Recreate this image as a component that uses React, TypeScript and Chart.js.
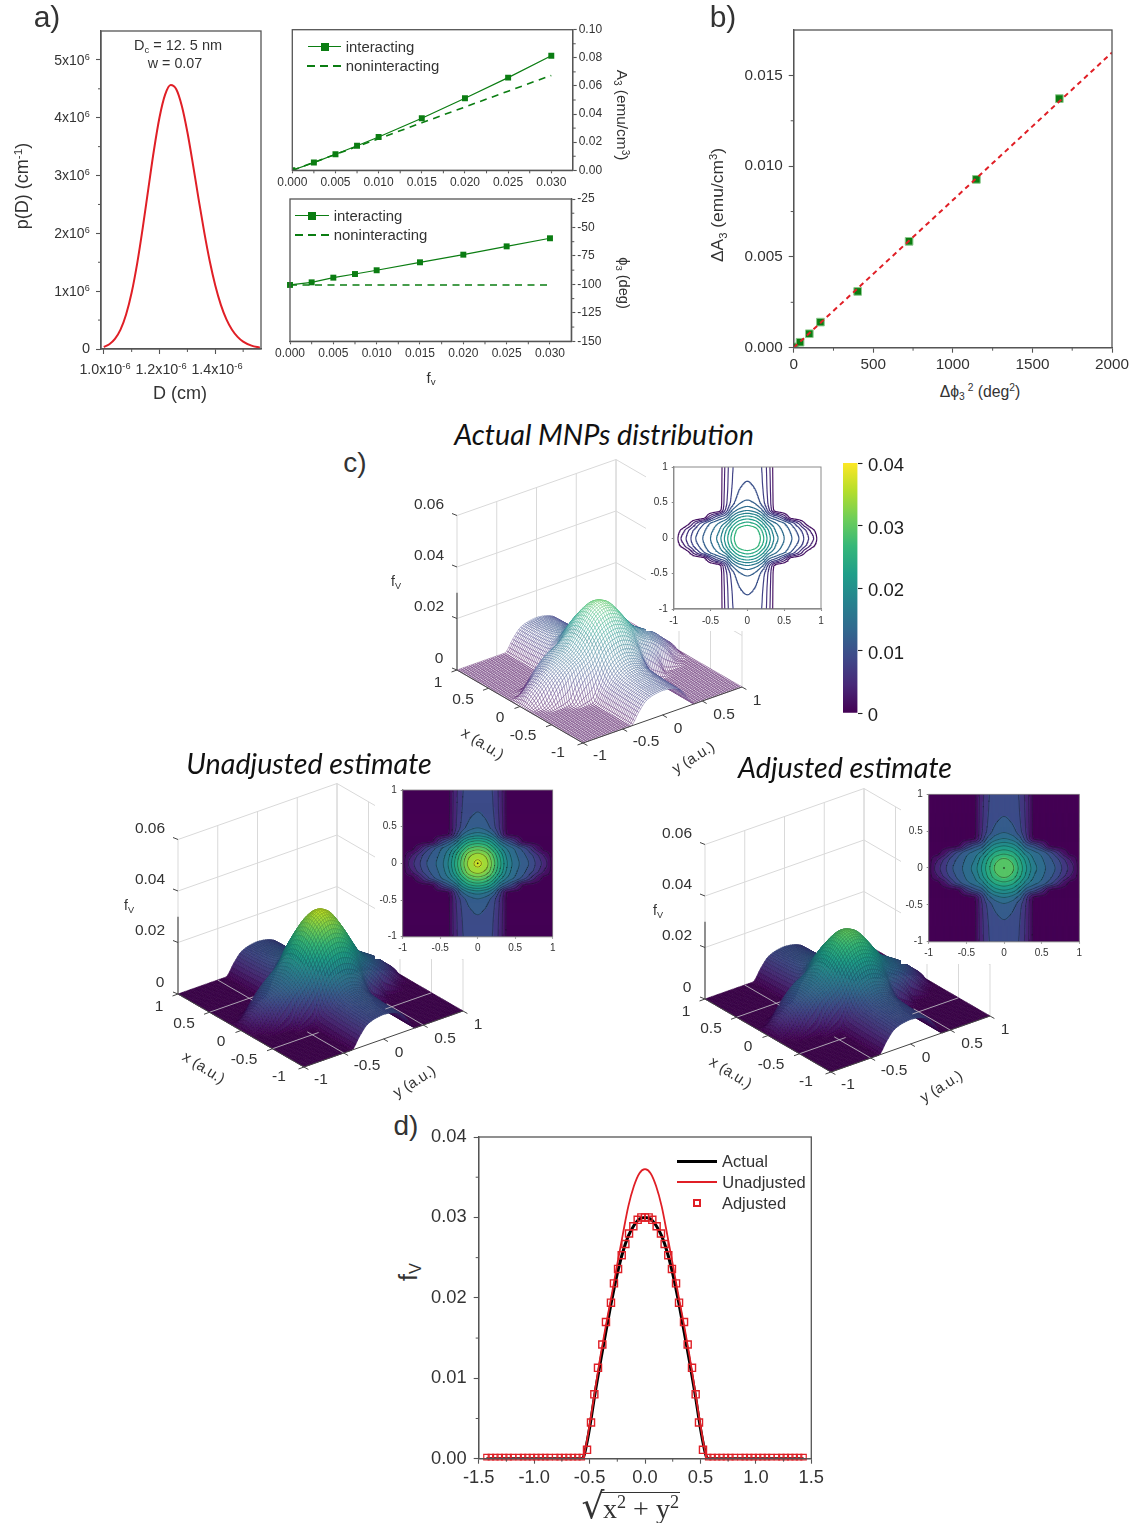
import React, { useEffect, useRef } from "react";
import { Chart, registerables } from "chart.js";
Chart.register(...registerables);

const SANS = "'Liberation Sans', Arial, sans-serif";
const INK = "#333333";
const AXIS = "#555555";
const GREEN = "#0b7d12";
const RED = "#e01f26";

// ---- panel a, size distribution
const diameterE6 = [1.0,1.02,1.04,1.06,1.08,1.1,1.12,1.14,1.16,1.18,1.2,1.22,1.24,1.26,1.28,1.3,1.32,1.34,1.36,1.38,1.4,1.42,1.44,1.46,1.48,1.5,1.53,1.56];
const densityE6 = [0.035,0.082,0.174,0.335,0.597,0.977,1.486,2.103,2.779,3.442,4.008,4.399,4.566,4.494,4.204,3.749,3.19,2.598,2.029,1.522,1.098,0.763,0.512,0.333,0.21,0.128,0.058,0.024];
const densityTicks = [0,1,2,3,4,5];
const densityTickLabels = ["0","","","","",""];
const densityMantissa = ["1","2","3","4","5"];
const densityMinor = [0.5,1.5,2.5,3.5,4.5];
const diameterTicks = [1.0,1.2,1.4];
const diameterTickLabels = ["","",""];
const diameterMantissa = ["1.0","1.2","1.4"];
const diameterMinor = [1.1,1.3,1.5];

// ---- panel a, A3 and phi3 against fv
const fvPoints = [0,0.0025,0.005,0.0075,0.01,0.015,0.02,0.025,0.03];
const a3Interacting = [0,0.0055,0.0114,0.0175,0.0237,0.037,0.0512,0.0659,0.0815];
const a3Noninteracting = [0,0.0056,0.0113,0.0169,0.0225,0.0338,0.045,0.0563,0.0675];
const phiInteracting = [-100.5,-98.2,-94.1,-90.9,-87.6,-80.6,-73.9,-66.6,-59.5];
const phiNoninteracting = [-100.5,-100.5,-100.5,-100.5,-100.5,-100.5,-100.5,-100.5,-100.5];
const fvTicks = [0,0.005,0.01,0.015,0.02,0.025,0.03];
const fvTickLabels = ["0.000","0.005","0.010","0.015","0.020","0.025","0.030"];
const fvMinor = [0.0025,0.0075,0.0125,0.0175,0.0225,0.0275];
const a3Ticks = [0,0.02,0.04,0.06,0.08,0.1];
const a3TickLabels = ["0.00","0.02","0.04","0.06","0.08","0.10"];
const a3Minor = [0.01,0.03,0.05,0.07,0.09];
const phiTicks = [-150,-125,-100,-75,-50,-25];
const phiTickLabels = ["-150","-125","-100","-75","-50","-25"];
const phiMinor = [-137.5,-112.5,-87.5,-62.5,-37.5];

// ---- panel b
const dPhiSquared = [8,40,98,168,402,725,1148,1669];
const dA3 = [0.00005,0.0003,0.00077,0.00141,0.0031,0.00586,0.00927,0.01372];
const fitX = [0,2000];
const fitY = [0,0.01626];
const bXTicks = [0,500,1000,1500,2000];
const bXLabels = ["0","500","1000","1500","2000"];
const bXMinor = [250,750,1250,1750];
const bYTicks = [0,0.005,0.01,0.015];
const bYLabels = ["0.000","0.005","0.010","0.015"];
const bYMinor = [0.0025,0.0075,0.0125];

// ---- panel c, heights in units of 0.001, quadrant x = 0..1 (rows), y = 0..1 (columns), step 0.1
const outerRidgeRows = [
  [12.6,11.8,9.2,5.0,0,0,0,0,0,0,0],
  [11.2,10.6,8.6,4.8,0,0,0,0,0,0,0],
  [10.5,10.0,8.3,4.6,0,0,0,0,0,0,0],
  [10.0,9.6,8.1,4.5,0,0,0,0,0,0,0],
  [9.7,9.3,8.0,4.4,0,0,0,0,0,0,0],
  [9.5,9.1,7.9,4.3,0,0,0,0,0,0,0],
];
const actualCentreRows = [
  [30.0,28.8,25.0,20.5,16.5,14.0,12.1,10.0,6.9,4.0,0],
  [28.8,27.6,24.0,19.6,15.5,13.5,11.5,9.1,6.0,2.5,0],
  [25.0,24.0,21.0,16.6,14.0,12.3,9.6,6.0,1.7,0,0],
  [20.5,19.6,16.6,11.5,9.0,5.3,0.5,0,0,0,0],
  [15.5,14.6,12.0,6.0,0.3,0,0,0,0,0,0],
];
const unadjustedCentreRows = [
  [36.0,34.4,29.6,23.6,17.8,14.2,12.1,10.0,6.9,4.0,0],
  [34.4,32.9,28.4,22.6,17.0,13.7,11.5,9.1,6.0,2.5,0],
  [29.6,28.4,24.6,19.2,15.0,12.5,9.6,6.0,1.7,0,0],
  [23.6,22.6,19.2,13.4,9.4,5.4,0.5,0,0,0,0],
  [16.5,15.6,12.8,6.4,0.3,0,0,0,0,0,0],
];
const actualTable = [...actualCentreRows, ...outerRidgeRows];
const unadjustedTable = [...unadjustedCentreRows, ...outerRidgeRows];
const lineLevels = [2,4,6,8,10,12,14,16,18,20,22,24,26];
const bandLevels = [0.5,3,5.5,8,10.5,13,15.5,18,20.5,23,25.5,28,30.5,33,35.5];
const viridisStops = ["#440154","#482878","#3e4989","#31688e","#26828e","#1f9e89","#35b779","#6ece58","#b5de2b","#fde725"];
const zTickValues = [0,0.02,0.04,0.06];
const wallOffsets = [-1,-0.5,0,0.5,1];
const insetTicks = [-1,-0.5,0,0.5,1];
const insetTickLabels = ["-1","-0.5","0","0.5","1"];
const colorbarTicks = [0,0.01,0.02,0.03,0.04];
const colorbarLabels = ["0","0.01","0.02","0.03","0.04"];

// ---- panel d
const halfR = [0,0.033,0.066,0.105,0.144,0.177,0.21,0.243,0.28,0.307,0.352,0.385,0.424,0.457,0.487,0.523];
const adjustedHalf = [0.03,0.03,0.0297,0.0289,0.028,0.0267,0.0253,0.0236,0.0218,0.0194,0.017,0.0142,0.0113,0.008,0.0045,0.0011];
const floorMarkers = [0.57,0.61,0.65,0.69,0.73,0.77,0.81,0.86,0.9,0.94,0.98,1.02,1.06,1.1,1.14,1.19,1.23,1.27,1.31,1.35,1.39,1.43];
const curveR = [0,0.05,0.1,0.15,0.2,0.25,0.3,0.35,0.4,0.45,0.5,0.55,0.57,1.43];
const actualCurve = [0.03,0.0298,0.029,0.0277,0.0257,0.023,0.0197,0.016,0.0122,0.0082,0.0038,0.0004,0,0];
const unadjustedCurve = [0.036,0.0355,0.0339,0.0314,0.0279,0.0242,0.0204,0.0168,0.0129,0.0086,0.0042,0.0005,0,0];
const dXTicks = [-1.5,-1,-0.5,0,0.5,1,1.5];
const dXLabels = ["-1.5","-1.0","-0.5","0.0","0.5","1.0","1.5"];
const dXMinor = [-1.25,-0.75,-0.25,0.25,0.75,1.25];
const dYTicks = [0,0.01,0.02,0.03,0.04];
const dYLabels = ["0.00","0.01","0.02","0.03","0.04"];
const dYMinor = [0.005,0.015,0.025,0.035];

// ---- helpers
type Rect = { x: number; y: number; w: number; h: number };
const zip = (xs: number[], ys: number[]) => xs.map((x, i) => ({ x, y: ys[i] }));
const mirror = (xs: number[], ys: number[]) => {
  const left = xs.slice().reverse().map((x, i) => ({ x: -x, y: ys[ys.length - 1 - i] }));
  return [...left, ...zip(xs, ys).filter((p) => p.x !== 0)];
};
const hex = (s: string) => [1, 3, 5].map((i) => parseInt(s.slice(i, i + 2), 16));
function viridis(t: number) {
  const v = Math.max(0, Math.min(0.9999, t)) * (viridisStops.length - 1);
  const i = Math.floor(v);
  const a = hex(viridisStops[i]);
  const b = hex(viridisStops[i + 1]);
  const c = a.map((q, k) => Math.round(q + (b[k] - q) * (v - i)));
  return `rgb(${c[0]},${c[1]},${c[2]})`;
}
function axis(o: any) {
  return {
    type: "linear",
    position: o.pos,
    min: o.min,
    max: o.max,
    grid: { display: true, drawOnChartArea: false, drawTicks: true, tickLength: o.len ?? 5, tickColor: o.color ?? AXIS, tickWidth: 1.1 },
    border: { display: true, color: o.color ?? AXIS, width: 1.3 },
    ticks: {
      autoSkip: false, maxRotation: 0, minRotation: 0, padding: o.pad ?? 3, color: o.ink ?? INK,
      font: { family: SANS, size: o.font },
      callback: (_v: any, i: number) => o.labels[i],
    },
    afterBuildTicks: (s: any) => { s.ticks = o.ticks.map((value: number) => ({ value })); },
  };
}
const framePlugin = {
  id: "frame",
  afterDatasetsDraw(chart: any) {
    const o = chart.config.options.frame;
    if (!o) return;
    const { ctx, chartArea: a, scales } = chart;
    ctx.save();
    ctx.strokeStyle = o.color ?? AXIS;
    ctx.lineWidth = o.width ?? 1.3;
    ctx.strokeRect(a.left, a.top, a.right - a.left, a.bottom - a.top);
    ctx.lineWidth = 1;
    (o.minorX || []).forEach((v: number) => {
      const p = scales.x.getPixelForValue(v);
      ctx.beginPath(); ctx.moveTo(p, a.bottom); ctx.lineTo(p, a.bottom + 3); ctx.stroke();
    });
    const yRight = scales.y.position === "right";
    (o.minorY || []).forEach((v: number) => {
      const p = scales.y.getPixelForValue(v);
      const e = yRight ? a.right : a.left;
      ctx.beginPath(); ctx.moveTo(e, p); ctx.lineTo(e + (yRight ? 3 : -3), p); ctx.stroke();
    });
    ctx.restore();
  },
};

function Plot({ rect, m, config, background, z }: { rect: Rect; m: number[]; config: () => any; background?: string; z?: number }) {
  const ref = useRef<HTMLCanvasElement>(null);
  const left = Math.floor(rect.x - m[0]);
  const top = Math.floor(rect.y - m[1]);
  const ml = rect.x - left;
  const mt = rect.y - top;
  const W = Math.ceil(ml + rect.w + m[2]);
  const H = Math.ceil(mt + rect.h + m[3]);
  const mr = W - ml - rect.w;
  const mb = H - mt - rect.h;
  useEffect(() => {
    const cfg = config();
    const sc = cfg.options.scales;
    const yRight = sc.y.position === "right";
    const xHidden = sc.x.display === false;
    const yHidden = sc.y.display === false;
    if (!xHidden) sc.x.afterFit = (s: any) => { s.height = mb; };
    if (!yHidden) sc.y.afterFit = (s: any) => { s.width = yRight ? mr : ml; };
    cfg.options = {
      responsive: false, animation: false, devicePixelRatio: 1,
      layout: { padding: { left: yRight || yHidden ? ml : 0, top: mt, right: yRight && !yHidden ? 0 : mr, bottom: xHidden ? mb : 0 } },
      ...cfg.options,
      plugins: { legend: { display: false }, tooltip: { enabled: false } },
    };
    cfg.plugins = [framePlugin, ...(cfg.plugins || [])];
    const c = new Chart(ref.current as any, cfg);
    return () => c.destroy();
  }, []);
  return (
    <canvas ref={ref} width={W} height={H}
      style={{ position: "absolute", left, top, width: W, height: H, background, zIndex: z ?? 1 }} />
  );
}

function T({ x, y, size = 15, rot = 0, italic, family, children, color = INK }: any) {
  return (
    <div style={{ position: "absolute", left: x, top: y, transform: `translate(-50%,-50%) rotate(${rot}deg)`, whiteSpace: "nowrap", fontFamily: family ?? SANS, fontSize: size, fontStyle: italic ? "italic" : "normal", color, lineHeight: 1, zIndex: 5 }}>
      {children}
    </div>
  );
}
const sub: any = { fontSize: "65%", verticalAlign: "-0.3em", lineHeight: 0 };
const sup: any = { fontSize: "65%", verticalAlign: "0.55em", lineHeight: 0 };

function Sample({ x1, x2, y, color, dash, width = 1.2 }: any) {
  const bg = dash ? `repeating-linear-gradient(90deg, ${color} 0 8px, transparent 8px 13px)` : color;
  return <div style={{ position: "absolute", left: x1, top: Math.round(y - width / 2), width: x2 - x1, height: width, background: bg, zIndex: 5 }} />;
}
function SquareMark({ x, y, s, color, hollow }: any) {
  return <div style={{ position: "absolute", left: x - s / 2, top: y - s / 2, width: s, height: s, boxSizing: "border-box", background: hollow ? "transparent" : color, border: hollow ? `2px solid ${color}` : "none", zIndex: 6 }} />;
}

// ---- surface sampling from the read-off table (shape-preserving cubic, so no ringing at the steep edges)
function sample(table: number[][], x: number, y: number) {
  const u = Math.min(Math.abs(x) * 10, 10);
  const v = Math.min(Math.abs(y) * 10, 10);
  const i = Math.floor(u), j = Math.floor(v);
  const s = u - i, t = v - j;
  const tan = (a: number, b: number) => (a * b <= 0 ? 0 : (2 * a * b) / (a + b));
  const herm = (a: number, b: number, c: number, d: number, q: number) => {
    const m1 = tan(b - a, c - b), m2 = tan(c - b, d - c);
    const q2 = q * q, q3 = q2 * q;
    return (2 * q3 - 3 * q2 + 1) * b + (q3 - 2 * q2 + q) * m1 + (-2 * q3 + 3 * q2) * c + (q3 - q2) * m2;
  };
  const at = (r: number, c: number) => table[Math.min(Math.abs(r), 10)][Math.min(Math.abs(c), 10)];
  const row = (r: number) => herm(at(r, j - 1), at(r, j), at(r, j + 1), at(r, j + 2), t);
  return Math.max(0, herm(row(i - 1), row(i), row(i + 1), row(i + 2), s));
}

type Geo = { dx: number; dy: number; fvShift: number };
const project = (g: Geo, x: number, y: number, z: number) => ({
  x: 599.5 + g.dx - 63 * x + 79.5 * y,
  y: 678.5 + g.dy - 36.5 * x - 28 * y - 2575 * z,
});

function surfaceConfig(table: number[][], g: Geo, mode: "mesh" | "surf", box: Rect, floorLines: boolean) {
  const N = 81;
  const grid: number[][] = [];
  for (let i = 0; i < N; i++) {
    const row: number[] = [];
    for (let j = 0; j < N; j++) row.push(sample(table, -1 + (2 * i) / (N - 1), -1 + (2 * j) / (N - 1)) / 1000);
    grid.push(row);
  }
  const wall = "#d9d9d9";
  const line = (pts: any[], color: string, order: number, width = 1) => ({
    type: "scatter", showLine: true, data: pts, borderColor: color, borderWidth: width, pointRadius: 0, order, clip: false,
  });
  const ds: any[] = [];
  zTickValues.slice(1).forEach((z) => {
    ds.push(line([project(g, 1, -1, z), project(g, 1, 1, z), project(g, -1, 1, z)], wall, 3));
  });
  wallOffsets.forEach((o) => {
    ds.push(line([project(g, 1, o, 0), project(g, 1, o, 0.06)], wall, 3));
    ds.push(line([project(g, o, 1, 0), project(g, o, 1, 0.06)], wall, 3));
  });
  const surfaceIndex = ds.length;
  ds.push({ type: "scatter", data: [project(g, -1, -1, 0), project(g, 1, -1, 0), project(g, 1, 1, 0), project(g, -1, 1, 0)], pointRadius: 0, order: 2, showLine: false });
  const dark = "#444444";
  ds.push(line([project(g, 1, -1, 0), project(g, -1, -1, 0), project(g, -1, 1, 0)], dark, 1, 1));
  ds.push(line([project(g, 1, -1, 0), project(g, 1, -1, 0.03)], dark, 1, 1.1));
  zTickValues.forEach((z) => {
    const p = project(g, 1, -1, z);
    ds.push(line([p, { x: p.x - 5, y: p.y - 2 }], dark, 1, 1));
  });
  wallOffsets.forEach((o) => {
    const p = project(g, o, -1, 0);
    ds.push(line([p, { x: p.x - 5.5, y: p.y + 2 }], dark, 1, 1));
    const q = project(g, -1, o, 0);
    ds.push(line([q, { x: q.x + 4.4, y: q.y + 2.5 }], dark, 1, 1));
  });
  if (floorLines) {
    const g2 = "#b9b4bd";
    ds.push(line([project(g, 0.5, -1, 0), project(g, 0.5, -0.45, 0)], g2, 1, 0.9));
    ds.push(line([project(g, 1, -0.5, 0), project(g, 0.45, -0.5, 0)], g2, 1, 0.9));
    ds.push(line([project(g, -0.5, -1, 0), project(g, -0.5, -0.42, 0)], g2, 1, 0.9));
    ds.push(line([project(g, -1, -0.5, 0), project(g, -0.42, -0.5, 0)], g2, 1, 0.9));
    ds.push(line([project(g, -0.5, 1, 0), project(g, -0.5, 0.42, 0)], g2, 1, 0.9));
    ds.push(line([project(g, -1, 0.5, 0), project(g, -0.42, 0.5, 0)], g2, 1, 0.9));
  }
  const plugin = {
    id: "surface",
    beforeDatasetDraw(chart: any, args: any) {
      if (args.index !== surfaceIndex) return;
      const { ctx, scales } = chart;
      const px = (i: number, j: number) => {
        const p = project(g, -1 + (2 * i) / (N - 1), -1 + (2 * j) / (N - 1), grid[i][j]);
        return [scales.x.getPixelForValue(p.x), scales.y.getPixelForValue(p.y)];
      };
      ctx.save();
      ctx.lineJoin = "round";
      for (let i = N - 2; i >= 0; i--) {
        for (let j = N - 2; j >= 0; j--) {
          const a = px(i, j), b = px(i + 1, j), c = px(i + 1, j + 1), d = px(i, j + 1);
          const z = (grid[i][j] + grid[i + 1][j] + grid[i + 1][j + 1] + grid[i][j + 1]) / 4;
          const col = viridis(z / 0.04);
          ctx.beginPath();
          ctx.moveTo(a[0], a[1]); ctx.lineTo(b[0], b[1]); ctx.lineTo(c[0], c[1]); ctx.lineTo(d[0], d[1]); ctx.closePath();
          if (mode === "mesh") {
            ctx.fillStyle = "#ffffff"; ctx.fill();
            ctx.strokeStyle = col; ctx.lineWidth = 0.35; ctx.stroke();
          } else {
            ctx.fillStyle = col; ctx.fill();
            ctx.strokeStyle = col; ctx.lineWidth = 0.5; ctx.stroke();
            ctx.strokeStyle = "rgba(0,0,0,0.38)"; ctx.lineWidth = 0.35; ctx.stroke();
          }
        }
      }
      ctx.restore();
    },
  };
  return {
    data: { datasets: ds },
    options: {
      scales: {
        x: { type: "linear", display: false, min: box.x, max: box.x + box.w },
        y: { type: "linear", display: false, min: box.y, max: box.y + box.h, reverse: true },
      },
    },
    plugins: [plugin],
  };
}

function contourSegments(table: number[][], level: number) {
  const M = 161;
  const val: number[][] = [];
  for (let i = 0; i < M; i++) {
    const r: number[] = [];
    for (let j = 0; j < M; j++) r.push(sample(table, -1 + (2 * i) / (M - 1), -1 + (2 * j) / (M - 1)));
    val.push(r);
  }
  const h = 2 / (M - 1);
  const out: any[] = [];
  for (let i = 0; i < M - 1; i++) {
    for (let j = 0; j < M - 1; j++) {
      const y0 = -1 + i * h, x0 = -1 + j * h;
      const c = [val[i][j], val[i][j + 1], val[i + 1][j + 1], val[i + 1][j]];
      const P = [[x0, y0], [x0 + h, y0], [x0 + h, y0 + h], [x0, y0 + h]];
      const hits: any[] = [];
      for (let k = 0; k < 4; k++) {
        const a = c[k], b = c[(k + 1) % 4];
        if ((a < level) !== (b < level)) {
          const t = (level - a) / (b - a);
          const p = P[k], q = P[(k + 1) % 4];
          hits.push({ x: p[0] + (q[0] - p[0]) * t, y: p[1] + (q[1] - p[1]) * t });
        }
      }
      for (let k = 0; k + 1 < hits.length; k += 2) out.push(hits[k], hits[k + 1], { x: NaN, y: NaN });
    }
  }
  return out;
}

function insetScales() {
  const frame = "#8a8a8a";
  return {
    x: axis({ pos: "bottom", min: -1, max: 1, ticks: insetTicks, labels: insetTickLabels, font: 10, len: 2, pad: 4, color: frame }),
    y: axis({ pos: "left", min: -1, max: 1, ticks: insetTicks, labels: insetTickLabels, font: 10, len: 2, pad: 4, color: frame }),
  };
}
function lineInsetConfig(table: number[][]) {
  return {
    type: "scatter",
    data: {
      datasets: lineLevels.map((lv) => ({
        type: "scatter", showLine: true, spanGaps: false, data: contourSegments(table, lv),
        borderColor: viridis(lv / 40), borderWidth: 1.15, pointRadius: 0, borderCapStyle: "round",
      })),
    },
    options: { scales: insetScales(), frame: { color: "#8a8a8a", width: 1 } },
  };
}
function filledInsetConfig(table: number[][]) {
  const C = 150;
  const bands: any[][] = [[], ...bandLevels.map(() => [])];
  for (let i = 0; i < C; i++) {
    for (let j = 0; j < C; j++) {
      const x = -1 + (2 * (j + 0.5)) / C, y = -1 + (2 * (i + 0.5)) / C;
      const z = sample(table, y, x);
      let b = 0;
      while (b < bandLevels.length && z >= bandLevels[b]) b++;
      bands[b].push({ x, y });
    }
  }
  const fills = bands.map((pts, b) => ({
    type: "scatter", data: pts, pointStyle: "rect", pointRadius: 1.6, pointBorderWidth: 0,
    pointBackgroundColor: viridis(b === 0 ? 0 : (bandLevels[b - 1] + 1.25) / 40), order: 100 - b,
  }));
  const lines = bandLevels.map((lv) => ({
    type: "scatter", showLine: true, spanGaps: false, data: contourSegments(table, lv),
    borderColor: "rgba(20,20,30,0.55)", borderWidth: 0.7, pointRadius: 0, order: 2,
  }));
  const dot = { type: "scatter", data: [{ x: 0, y: 0 }], pointRadius: 0.8, pointBackgroundColor: "#222", order: 1 };
  return {
    type: "scatter",
    data: { datasets: [...fills, ...lines, dot] },
    options: { scales: insetScales(), frame: { color: "#8a8a8a", width: 0.8 } },
  };
}

// ---- 2-D panels
const sizeConfig = () => ({
  type: "scatter",
  data: { datasets: [{ data: zip(diameterE6, densityE6), showLine: true, borderColor: RED, borderWidth: 2, pointRadius: 0, cubicInterpolationMode: "monotone" }] },
  options: {
    scales: {
      x: axis({ pos: "bottom", min: 0.99, max: 1.564, ticks: diameterTicks, labels: diameterTickLabels, font: 14, pad: 5 }),
      y: axis({ pos: "left", min: 0, max: 5.5, ticks: densityTicks, labels: densityTickLabels, font: 14.5, pad: 6 }),
    },
    frame: { minorX: diameterMinor, minorY: densityMinor },
  },
});
const fvConfig = (y1: number[], y2: number[], yo: any, minorY: number[], clip: boolean, xmax: number) => ({
  type: "scatter",
  data: {
    datasets: [
      { data: zip(fvPoints, y1), showLine: true, borderColor: GREEN, borderWidth: 1.2, backgroundColor: GREEN, pointStyle: "rect", pointRadius: 4.2, pointBorderWidth: 0, order: 1, clip: clip ? undefined : false },
      { data: zip(fvPoints, y2), showLine: true, borderColor: GREEN, borderWidth: 1.6, borderDash: [7, 5.5], pointRadius: 0, order: 2 },
    ],
  },
  options: {
    scales: {
      x: axis({ pos: "bottom", min: 0, max: xmax, ticks: fvTicks, labels: fvTickLabels, font: 12, len: 3, pad: 2 }),
      y: axis({ pos: "right", ...yo, font: 12, len: 4, pad: 2 }),
    },
    frame: { minorX: fvMinor, minorY },
  },
});
const bConfig = () => ({
  type: "scatter",
  data: {
    datasets: [
      { data: zip(dPhiSquared, dA3), backgroundColor: GREEN, borderColor: "#8cc98c", pointStyle: "rect", pointRadius: 5.4, pointBorderWidth: 1, order: 1 },
      { data: zip(fitX, fitY), showLine: true, borderColor: RED, borderWidth: 2, borderDash: [5, 4], pointRadius: 0, order: 0 },
    ],
  },
  options: {
    scales: {
      x: axis({ pos: "bottom", min: 0, max: 2000, ticks: bXTicks, labels: bXLabels, font: 15.3, pad: 3 }),
      y: axis({ pos: "left", min: 0, max: 0.0175, ticks: bYTicks, labels: bYLabels, font: 15.3, pad: 6 }),
    },
    frame: { minorX: bXMinor, minorY: bYMinor },
  },
});
const dConfig = () => ({
  type: "scatter",
  data: {
    datasets: [
      { data: mirror(curveR, actualCurve), showLine: true, borderColor: "#000000", borderWidth: 3, pointRadius: 0, cubicInterpolationMode: "monotone", order: 3 },
      { data: mirror(curveR, unadjustedCurve), showLine: true, borderColor: RED, borderWidth: 1.8, pointRadius: 0, cubicInterpolationMode: "monotone", order: 2 },
      { data: mirror(halfR, adjustedHalf), pointStyle: "rect", pointRadius: 5, pointBorderWidth: 1.4, borderColor: RED, backgroundColor: "rgba(255,255,255,0)", order: 1 },
      { data: mirror(floorMarkers, floorMarkers.map(() => 0.0002)), pointStyle: "rect", pointRadius: 3.8, pointBorderWidth: 1.2, borderColor: RED, backgroundColor: "rgba(255,255,255,0)", order: 1, clip: false },
    ],
  },
  options: {
    scales: {
      x: axis({ pos: "bottom", min: -1.5, max: 1.5, ticks: dXTicks, labels: dXLabels, font: 18.3, pad: 3 }),
      y: axis({ pos: "left", min: 0, max: 0.04, ticks: dYTicks, labels: dYLabels, font: 18.3, pad: 7 }),
    },
    frame: { minorX: dXMinor, minorY: dYMinor },
  },
});
const colorbarConfig = () => ({
  type: "bar",
  data: {
    labels: [""],
    datasets: [{
      data: [[colorbarTicks[0], colorbarTicks[4]]], barPercentage: 1, categoryPercentage: 1, borderWidth: 0,
      backgroundColor: (c: any) => {
        const a = c.chart.chartArea;
        if (!a) return "#440154";
        const gr = c.chart.ctx.createLinearGradient(0, a.bottom, 0, a.top);
        viridisStops.forEach((s, i) => gr.addColorStop(i / (viridisStops.length - 1), s));
        return gr;
      },
    }],
  },
  options: {
    scales: {
      x: { type: "category", display: false },
      y: { ...axis({ pos: "right", min: 0, max: 0.04, ticks: colorbarTicks, labels: colorbarTicks.map(() => ""), font: 18.5, len: 5, pad: 6, color: "#222222" }), border: { display: false } },
    },
  },
});

// ---- 3-D panel labels
const zLabelY = [658, 606, 555, 504];
const zLabelText = ["0", "0.02", "0.04", "0.06"];
const zLabelX = [439, 429, 429, 429];
const xLabelPos = [[438, 682, "1"], [463, 699, "0.5"], [500, 717, "0"], [523, 735, "-0.5"], [558, 752, "-1"]];
const yLabelPos = [[600, 755, "-1"], [646, 741, "-0.5"], [678, 728, "0"], [724, 714, "0.5"], [757, 700, "1"]];

function Labels3D({ dx, dy, fvShift }: Geo) {
  return (
    <>
      {zLabelText.map((s, i) => <T key={s} x={zLabelX[i] + dx} y={zLabelY[i] + dy} size={15.5}>{s}</T>)}
      {xLabelPos.map((p: any) => <T key={"x" + p[2]} x={p[0] + dx} y={p[1] + dy} size={15.5}>{p[2]}</T>)}
      {yLabelPos.map((p: any) => <T key={"y" + p[2]} x={p[0] + dx} y={p[1] + dy} size={15.5}>{p[2]}</T>)}
      <T x={483 + dx} y={743 + dy} size={15} rot={32}>x (a.u.)</T>
      <T x={693 + dx} y={757 + dy} size={15} rot={-32}>y (a.u.)</T>
      <T x={396 + dx + fvShift} y={581 + dy} size={14}>f<span style={sub}>V</span></T>
    </>
  );
}

const geoTop: Geo = { dx: 0, dy: 0, fvShift: 0 };
const geoLeft: Geo = { dx: -279, dy: 324, fvShift: 12 };
const geoRight: Geo = { dx: 248, dy: 329, fvShift: 14 };
const box3D = (g: Geo): Rect => ({ x: 440 + g.dx, y: 455 + g.dy, w: 330, h: 300 });
const TITLE = "Lato, 'Open Sans', sans-serif";

export default function App() {
  return (
    <div style={{ position: "absolute", left: 0, top: 0, width: 1135, height: 1523, background: "#fff", overflow: "hidden" }}>
      {/* panel a */}
      <Plot rect={{ x: 101, y: 31, w: 160, h: 318 }} m={[70, 20, 30, 40]} config={sizeConfig} />
      <Plot rect={{ x: 292.3, y: 29.7, w: 280.4, h: 140.6 }} m={[20, 20, 50, 24]} config={() => fvConfig(a3Interacting, a3Noninteracting, { min: 0, max: 0.1, ticks: a3Ticks, labels: a3TickLabels }, a3Minor, true, 0.03248)} />
      <Plot rect={{ x: 290, y: 199, w: 281.3, h: 142.3 }} m={[20, 20, 50, 24]} config={() => fvConfig(phiInteracting, phiNoninteracting, { min: -150, max: -25, ticks: phiTicks, labels: phiTickLabels }, phiMinor, false, 0.03246)} />
      <T x={47} y={17} size={30}>a)</T>
      <T x={178} y={45} size={14.5}>D<span style={sub}>c</span> = 12. 5 nm</T>
      <T x={175} y={63} size={14.3}>w = 0.07</T>
      {densityMantissa.map((s, i) => (
        <T key={s} x={72} y={349 - 57.9 * (i + 1)} size={14}>{s}x10<span style={sup}>6</span></T>
      ))}
      {diameterMantissa.map((s, i) => (
        <T key={s} x={105 + 56 * i} y={369} size={14.3}>{s}x10<span style={sup}>-6</span></T>
      ))}
      <T x={22} y={186} size={18} rot={-90}>p(D) (cm<span style={sup}>-1</span>)</T>
      <T x={180} y={393} size={18}>D (cm)</T>
      <Sample x1={307.7} x2={340.7} y={46.7} color={GREEN} />
      <SquareMark x={324.5} y={46.7} s={8} color={GREEN} />
      <T x={380} y={47} size={14.9}>interacting</T>
      <Sample x1={307} x2={341} y={65.7} color={GREEN} dash width={2} />
      <T x={392.5} y={66} size={14.9}>noninteracting</T>
      <Sample x1={295} x2={329} y={215.7} color={GREEN} />
      <SquareMark x={312} y={215.7} s={8} color={GREEN} />
      <T x={368} y={216} size={14.9}>interacting</T>
      <Sample x1={295} x2={329} y={235} color={GREEN} dash width={2} />
      <T x={380.5} y={235} size={14.9}>noninteracting</T>
      <T x={622} y={115} size={15.4} rot={90}>A<span style={sub}>3</span> (emu/cm<span style={sup}>3</span>)</T>
      <T x={624} y={283} size={14.6} rot={90}>ϕ<span style={sub}>3</span> (deg)</T>
      <T x={431} y={377} size={15}>f<span style={sub}>v</span></T>

      {/* panel b */}
      <Plot rect={{ x: 793.7, y: 30, w: 318.3, h: 317.7 }} m={[60, 20, 22, 30]} config={bConfig} />
      <T x={723} y={17} size={30}>b)</T>
      <T x={718} y={205} size={17.4} rot={-90}>ΔA<span style={sub}>3</span> (emu/cm<span style={sup}>3</span>)</T>
      <T x={980} y={392} size={15.8}>Δϕ<span style={sub}>3</span><span style={sup}>&nbsp;2</span> (deg<span style={sup}>2</span>)</T>

      {/* panel c */}
      <T x={604} y={434} size={28.7} italic family={TITLE} color="#111">Actual MNPs distribution</T>
      <T x={309} y={763} size={28.7} italic family={TITLE} color="#111">Unadjusted estimate</T>
      <T x={845} y={767} size={28.7} italic family={TITLE} color="#111">Adjusted estimate</T>
      <T x={355} y={463} size={28}>c)</T>
      <Plot rect={box3D(geoTop)} m={[0, 0, 0, 0]} config={() => surfaceConfig(actualTable, geoTop, "mesh", box3D(geoTop), false)} />
      <Plot rect={box3D(geoLeft)} m={[0, 0, 0, 0]} config={() => surfaceConfig(unadjustedTable, geoLeft, "surf", box3D(geoLeft), true)} />
      <Plot rect={box3D(geoRight)} m={[0, 0, 0, 0]} config={() => surfaceConfig(actualTable, geoRight, "surf", box3D(geoRight), true)} />
      <Labels3D {...geoTop} />
      <Labels3D {...geoLeft} />
      <Labels3D {...geoRight} />
      <Plot rect={{ x: 673.7, y: 464.7, w: 147.3, h: 144.3 }} m={[27, 7, 10, 22]} config={() => lineInsetConfig(actualTable)} background="#fff" z={3} />
      <Plot rect={{ x: 402.7, y: 790, w: 150, h: 146.7 }} m={[27, 10, 8, 22]} config={() => filledInsetConfig(unadjustedTable)} background="#fff" z={3} />
      <Plot rect={{ x: 928.7, y: 794.3, w: 150.6, h: 147.4 }} m={[27, 10, 8, 22]} config={() => filledInsetConfig(actualTable)} background="#fff" z={3} />
      <Plot rect={{ x: 843, y: 463, w: 14.5, h: 250 }} m={[2, 24, 60, 24]} config={colorbarConfig} />
      {colorbarLabels.map((s, i) => (
        <T key={s} x={i === 0 ? 873 : 886} y={713 - 62.5 * i + 2} size={18.5} color="#1c1c1c">{s}</T>
      ))}

      {/* panel d */}
      <Plot rect={{ x: 478.7, y: 1137, w: 332.6, h: 321.7 }} m={[50, 24, 30, 30]} config={dConfig} />
      <T x={406} y={1126} size={28}>d)</T>
      <T x={408} y={1272} size={25} rot={-90}>f<span style={sub}>V</span></T>
      <Sample x1={677} x2={717} y={1161} color="#000" width={3} />
      <Sample x1={677} x2={717} y={1182} color={RED} width={1.5} />
      <SquareMark x={696.7} y={1203} s={8} color={RED} hollow />
      <T x={745} y={1161} size={16.5}>Actual</T>
      <T x={764} y={1182} size={16.5}>Unadjusted</T>
      <T x={754} y={1203} size={16.5}>Adjusted</T>
      <T x={593} y={1506} size={36} family="'DejaVu Serif', serif">√</T>
      <Sample x1={601} x2={680} y={1492.5} color="#333" width={1.2} />
      <T x={641} y={1509} size={28} family="'Liberation Serif', serif">x<span style={sup}>2</span> + y<span style={sup}>2</span></T>
    </div>
  );
}
